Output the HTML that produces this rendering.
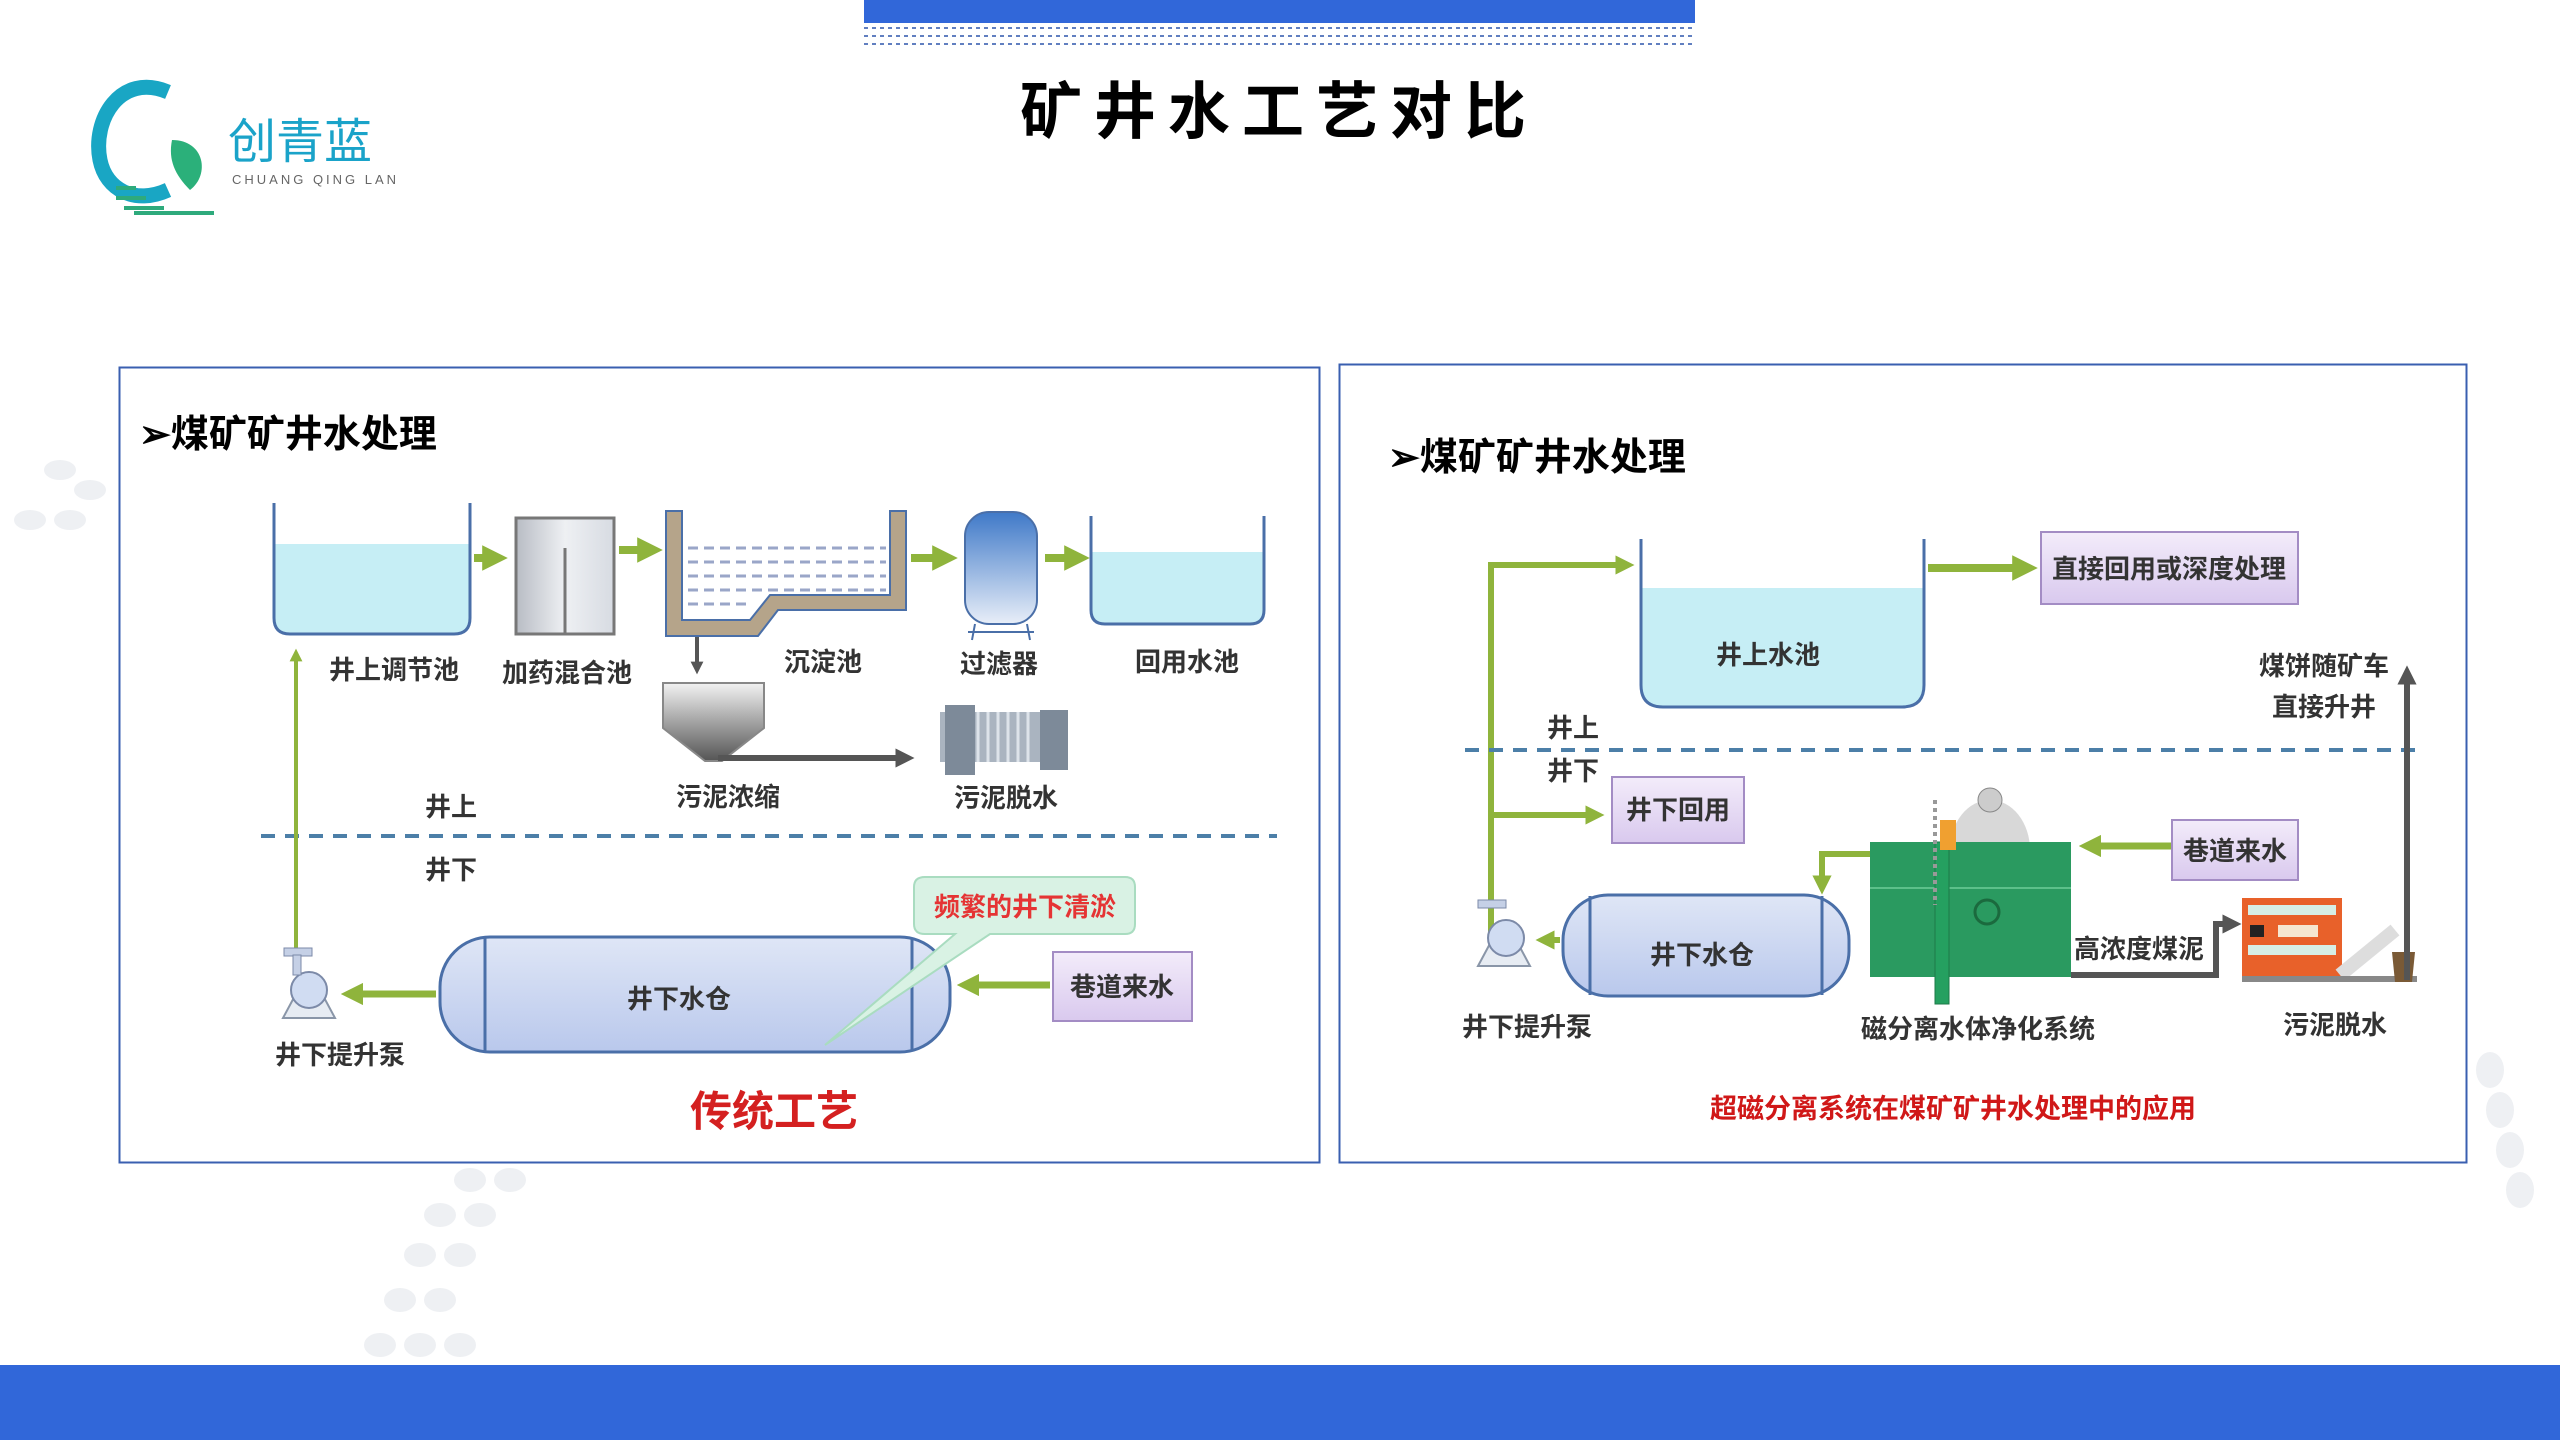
<!DOCTYPE html>
<html><head><meta charset="utf-8"><style>
html,body{margin:0;padding:0;background:#fff;}
body{width:2560px;height:1440px;overflow:hidden;position:relative;}
svg text{font-family:"Liberation Sans","Noto Sans CJK SC",sans-serif;}
</style></head><body>
<svg width="2560" height="1440" viewBox="0 0 2560 1440" xmlns="http://www.w3.org/2000/svg">
<defs>
<pattern id="dots" width="8" height="8" patternUnits="userSpaceOnUse"><rect x="0" y="3" width="4" height="2" fill="#3a5fb0"/></pattern>
<marker id="ga" viewBox="0 0 10 10" refX="5" refY="5" markerWidth="3.2" markerHeight="3.2" orient="auto"><path d="M0,0L10,5L0,10z" fill="#8fb43c"/></marker>
<marker id="da" viewBox="0 0 10 10" refX="5" refY="5" markerWidth="3.2" markerHeight="3.2" orient="auto"><path d="M0,0L10,5L0,10z" fill="#555"/></marker>
<linearGradient id="tankg" x1="0" y1="0" x2="0" y2="1"><stop offset="0" stop-color="#dfe6f6"/><stop offset="1" stop-color="#b9c8ec"/></linearGradient>
<linearGradient id="boxg" x1="0" y1="0" x2="1" y2="0"><stop offset="0" stop-color="#b8bcc4"/><stop offset="0.5" stop-color="#eef0f3"/><stop offset="1" stop-color="#d7dbe2"/></linearGradient>
<linearGradient id="filt" x1="0" y1="0" x2="0" y2="1"><stop offset="0" stop-color="#3f79c8"/><stop offset="1" stop-color="#e8eef8"/></linearGradient>
<linearGradient id="thick" x1="0" y1="0" x2="0" y2="1"><stop offset="0" stop-color="#f2f2f2"/><stop offset="1" stop-color="#555"/></linearGradient>
<linearGradient id="purp" x1="0" y1="0" x2="0" y2="1"><stop offset="0" stop-color="#f3ecfa"/><stop offset="1" stop-color="#d9c9ee"/></linearGradient>
</defs>

<rect x="864" y="0" width="831" height="23" fill="#3167d9"/>
<rect x="864" y="26" width="831" height="22" fill="url(#dots)" opacity="0.8"/>
<text x="1279" y="133" font-size="62" font-weight="bold" text-anchor="middle" letter-spacing="12" fill="#000">矿井水工艺对比</text>

<path d="M168,92 C120,72 92,120 100,160 C106,190 135,205 168,190" fill="none" stroke="#19a6c4" stroke-width="15"/>
<path d="M172,140 C205,140 210,175 190,190 C175,175 168,160 172,140z" fill="#2bb07a"/>
<rect x="116" y="186" width="20" height="4" fill="#2eaa7c"/>
<rect x="116" y="196" width="30" height="4" fill="#2eaa7c"/>
<rect x="124" y="206" width="40" height="4" fill="#2eaa7c"/>
<rect x="134" y="211" width="80" height="4" fill="#2eaa7c"/>
<text x="228" y="158" font-size="48" fill="#1aa3c9">创青蓝</text>
<text x="232" y="184" font-size="13" fill="#666" letter-spacing="3">CHUANG QING LAN</text>

<rect x="0" y="1365" width="2560" height="75" fill="#3167d9"/>

<g fill="#eef0f3">
<ellipse cx="470" cy="1180" rx="16" ry="12"/><ellipse cx="510" cy="1180" rx="16" ry="12"/><ellipse cx="440" cy="1215" rx="16" ry="12"/><ellipse cx="480" cy="1215" rx="16" ry="12"/><ellipse cx="420" cy="1255" rx="16" ry="12"/><ellipse cx="460" cy="1255" rx="16" ry="12"/><ellipse cx="400" cy="1300" rx="16" ry="12"/><ellipse cx="440" cy="1300" rx="16" ry="12"/><ellipse cx="380" cy="1345" rx="16" ry="12"/><ellipse cx="420" cy="1345" rx="16" ry="12"/><ellipse cx="460" cy="1345" rx="16" ry="12"/>
<ellipse cx="60" cy="470" rx="16" ry="10"/><ellipse cx="90" cy="490" rx="16" ry="10"/><ellipse cx="30" cy="520" rx="16" ry="10"/><ellipse cx="70" cy="520" rx="16" ry="10"/>
<ellipse cx="2490" cy="1070" rx="14" ry="18"/><ellipse cx="2500" cy="1110" rx="14" ry="18"/><ellipse cx="2510" cy="1150" rx="14" ry="18"/><ellipse cx="2520" cy="1190" rx="14" ry="18"/>
</g>

<rect x="119.5" y="367.5" width="1200" height="795" fill="#fff" stroke="#3a5fb0" stroke-width="2"/>
<text x="139" y="447" font-size="38" font-weight="bold" fill="#000">➢煤矿矿井水处理</text>

<path d="M274,544 L470,544 L470,618 Q470,634 454,634 L290,634 Q274,634 274,618 Z" fill="#c6eef5"/>
<path d="M274,503 L274,618 Q274,634 290,634 L454,634 Q470,634 470,618 L470,503" fill="none" stroke="#4a6fa8" stroke-width="3"/>
<line x1="474" y1="558" x2="495" y2="558" stroke="#8fb43c" stroke-width="8" marker-end="url(#ga)"/>
<rect x="516" y="518" width="98" height="116" fill="url(#boxg)" stroke="#777" stroke-width="3"/>
<line x1="565" y1="548" x2="565" y2="634" stroke="#777" stroke-width="3"/>
<line x1="619" y1="550" x2="650" y2="550" stroke="#8fb43c" stroke-width="8" marker-end="url(#ga)"/>
<path d="M666,511 L682,511 L682,620 L750,620 L770,595 L890,595 L890,511 L906,511 L906,610 L778,610 L758,636 L666,636 Z" fill="#b5a48a" stroke="#4a6fa8" stroke-width="2"/>
<g stroke="#9aa6c8" stroke-width="3" stroke-dasharray="10,6">
<line x1="688" y1="548" x2="886" y2="548"/><line x1="688" y1="562" x2="886" y2="562"/><line x1="688" y1="576" x2="886" y2="576"/><line x1="688" y1="590" x2="886" y2="590"/><line x1="688" y1="604" x2="750" y2="604"/>
</g>
<line x1="911" y1="558" x2="945" y2="558" stroke="#8fb43c" stroke-width="8" marker-end="url(#ga)"/>
<rect x="965" y="512" width="72" height="112" rx="24" fill="url(#filt)" stroke="#4a6fa8" stroke-width="2"/>
<path d="M975,624 L972,640 M1027,624 L1030,640 M968,632 L1034,632" stroke="#4a6fa8" stroke-width="2"/>
<line x1="1045" y1="558" x2="1077" y2="558" stroke="#8fb43c" stroke-width="8" marker-end="url(#ga)"/>
<path d="M1091,552 L1264,552 L1264,610 Q1264,624 1250,624 L1105,624 Q1091,624 1091,610 Z" fill="#c6eef5"/>
<path d="M1091,516 L1091,610 Q1091,624 1105,624 L1250,624 Q1264,624 1264,610 L1264,516" fill="none" stroke="#4a6fa8" stroke-width="3"/>
<g font-size="26" font-weight="bold" fill="#333" text-anchor="middle">
<text x="394" y="679">井上调节池</text><text x="567" y="682">加药混合池</text><text x="823" y="671">沉淀池</text><text x="999" y="673">过滤器</text><text x="1187" y="671">回用水池</text>
<text x="728" y="806">污泥浓缩</text><text x="1006" y="807">污泥脱水</text>
<text x="451" y="816">井上</text><text x="451" y="879">井下</text>
<text x="340" y="1064">井下提升泵</text>
</g>
<line x1="697" y1="637" x2="697" y2="668" stroke="#555" stroke-width="4" marker-end="url(#da)"/>
<path d="M663,683 L764,683 L764,728 L722,761 L705,761 L663,728 Z" fill="url(#thick)" stroke="#888" stroke-width="2"/>
<line x1="718" y1="758" x2="905" y2="758" stroke="#555" stroke-width="6" marker-end="url(#da)"/>
<rect x="940" y="712" width="125" height="50" fill="#aab4c0"/>
<rect x="945" y="705" width="30" height="70" fill="#7d8a99"/>
<rect x="1040" y="710" width="28" height="60" fill="#7d8a99"/>
<g stroke="#dde3ea" stroke-width="3"><line x1="978" y1="712" x2="978" y2="762"/><line x1="988" y1="712" x2="988" y2="762"/><line x1="998" y1="712" x2="998" y2="762"/><line x1="1008" y1="712" x2="1008" y2="762"/><line x1="1018" y1="712" x2="1018" y2="762"/><line x1="1028" y1="712" x2="1028" y2="762"/></g>
<line x1="261" y1="836" x2="1277" y2="836" stroke="#4c7fa8" stroke-width="4" stroke-dasharray="14,10"/>
<line x1="296" y1="950" x2="296" y2="655" stroke="#8fb43c" stroke-width="4" marker-end="url(#ga)"/>
<path d="M283,1018 L298,990 L320,990 L335,1018 Z" fill="#e7ecf3" stroke="#8a96a8" stroke-width="2"/>
<circle cx="309" cy="990" r="18" fill="#d0dcf2" stroke="#7c8aa8" stroke-width="2"/>
<rect x="284" y="948" width="28" height="8" fill="#c5d0e6" stroke="#7c8aa8"/>
<rect x="293" y="955" width="8" height="20" fill="#c5d0e6" stroke="#7c8aa8"/>
<rect x="440" y="937" width="510" height="115" rx="50" fill="url(#tankg)" stroke="#4a6fa8" stroke-width="3"/>
<line x1="485" y1="938" x2="485" y2="1051" stroke="#4a6fa8" stroke-width="3"/>
<line x1="912" y1="938" x2="912" y2="1051" stroke="#4a6fa8" stroke-width="3"/>
<text x="679" y="1008" font-size="26" font-weight="bold" fill="#333" text-anchor="middle">井下水仓</text>
<line x1="436" y1="994" x2="352" y2="994" stroke="#8fb43c" stroke-width="7" marker-end="url(#ga)"/>
<rect x="1053" y="952" width="139" height="69" fill="url(#purp)" stroke="#a38cc4" stroke-width="2"/>
<text x="1122" y="996" font-size="26" font-weight="bold" fill="#333" text-anchor="middle">巷道来水</text>
<line x1="1050" y1="985" x2="968" y2="985" stroke="#8fb43c" stroke-width="7" marker-end="url(#ga)"/>
<path d="M925,877 L1125,877 Q1135,877 1135,887 L1135,924 Q1135,934 1125,934 L990,934 L825,1045 L955,934 L925,934 Q914,934 914,924 L914,887 Q914,877 925,877 Z" fill="#d9f2e4" stroke="#a9dcc0" stroke-width="2"/>
<text x="1025" y="916" font-size="26" font-weight="bold" fill="#e53434" text-anchor="middle">频繁的井下清淤</text>
<text x="774" y="1126" font-size="42" font-weight="bold" fill="#d42020" text-anchor="middle">传统工艺</text>

<rect x="1339.5" y="364.5" width="1127" height="798" fill="#fff" stroke="#3a5fb0" stroke-width="2"/>
<text x="1388" y="470" font-size="38" font-weight="bold" fill="#000">➢煤矿矿井水处理</text>
<path d="M1641,588 L1924,588 L1924,685 Q1924,707 1902,707 L1663,707 Q1641,707 1641,685 Z" fill="#c6eef5"/>
<path d="M1641,539 L1641,685 Q1641,707 1663,707 L1902,707 Q1924,707 1924,685 L1924,539" fill="none" stroke="#4a6fa8" stroke-width="3"/>
<text x="1768" y="664" font-size="26" font-weight="bold" fill="#333" text-anchor="middle">井上水池</text>
<line x1="1928" y1="568" x2="2025" y2="568" stroke="#8fb43c" stroke-width="8" marker-end="url(#ga)"/>
<rect x="2041" y="532" width="257" height="72" fill="url(#purp)" stroke="#a38cc4" stroke-width="2"/>
<text x="2169" y="578" font-size="26" font-weight="bold" fill="#333" text-anchor="middle">直接回用或深度处理</text>
<polyline points="1491,940 1491,565 1625,565" fill="none" stroke="#8fb43c" stroke-width="6"/>
<line x1="1600" y1="565" x2="1625" y2="565" stroke="#8fb43c" stroke-width="6" marker-end="url(#ga)"/>
<line x1="1491" y1="815" x2="1595" y2="815" stroke="#8fb43c" stroke-width="6" marker-end="url(#ga)"/>
<line x1="1465" y1="750" x2="2423" y2="750" stroke="#4c7fa8" stroke-width="4" stroke-dasharray="14,10"/>
<g font-size="26" font-weight="bold" fill="#333" text-anchor="middle">
<text x="1573" y="737">井上</text><text x="1573" y="780">井下</text>
<text x="1527" y="1036">井下提升泵</text><text x="1978" y="1038">磁分离水体净化系统</text><text x="2335" y="1034">污泥脱水</text>
<text x="2324" y="675">煤饼随矿车</text><text x="2324" y="716">直接升井</text>
<text x="2139" y="958">高浓度煤泥</text>
</g>
<rect x="1612" y="777" width="132" height="66" fill="url(#purp)" stroke="#a38cc4" stroke-width="2"/>
<text x="1678" y="819" font-size="26" font-weight="bold" fill="#333" text-anchor="middle">井下回用</text>
<path d="M1478,966 L1493,938 L1515,938 L1530,966 Z" fill="#e7ecf3" stroke="#8a96a8" stroke-width="2"/>
<circle cx="1506" cy="938" r="18" fill="#d0dcf2" stroke="#7c8aa8" stroke-width="2"/>
<rect x="1478" y="900" width="28" height="8" fill="#c5d0e6" stroke="#7c8aa8"/>
<rect x="1563" y="895" width="286" height="101" rx="45" fill="url(#tankg)" stroke="#4a6fa8" stroke-width="3"/>
<line x1="1590" y1="896" x2="1590" y2="995" stroke="#4a6fa8" stroke-width="3"/>
<line x1="1822" y1="896" x2="1822" y2="995" stroke="#4a6fa8" stroke-width="3"/>
<text x="1702" y="964" font-size="26" font-weight="bold" fill="#333" text-anchor="middle">井下水仓</text>
<line x1="1560" y1="940" x2="1545" y2="940" stroke="#8fb43c" stroke-width="6" marker-end="url(#ga)"/>
<polyline points="1870,854 1822,854 1822,880" fill="none" stroke="#8fb43c" stroke-width="6"/>
<line x1="1822" y1="870" x2="1822" y2="885" stroke="#8fb43c" stroke-width="6" marker-end="url(#ga)"/>
<ellipse cx="1990" cy="850" rx="40" ry="50" fill="#d8d8d8"/>
<circle cx="1990" cy="800" r="12" fill="#ccc" stroke="#888"/>
<rect x="1870" y="842" width="201" height="135" fill="#2a9a60"/>
<line x1="1870" y1="888" x2="2071" y2="888" stroke="#5cc08a" stroke-width="2"/>
<rect x="1935" y="842" width="14" height="162" fill="#25a060" stroke="#1d7a48"/>
<rect x="1940" y="820" width="16" height="30" fill="#f0a030"/>
<line x1="1935" y1="800" x2="1935" y2="905" stroke="#999" stroke-width="4" stroke-dasharray="4,4"/>
<circle cx="1987" cy="912" r="12" fill="#2a9a60" stroke="#1b6a3e" stroke-width="3"/>
<line x1="2172" y1="846" x2="2090" y2="846" stroke="#8fb43c" stroke-width="7" marker-end="url(#ga)"/>
<rect x="2172" y="820" width="126" height="60" fill="url(#purp)" stroke="#a38cc4" stroke-width="2"/>
<text x="2235" y="860" font-size="26" font-weight="bold" fill="#333" text-anchor="middle">巷道来水</text>
<polyline points="2071,975 2216,975 2216,924 2228,924" fill="none" stroke="#555" stroke-width="6"/>
<line x1="2222" y1="924" x2="2232" y2="924" stroke="#555" stroke-width="6" marker-end="url(#da)"/>
<rect x="2242" y="898" width="100" height="80" fill="#e8612a"/>
<rect x="2248" y="905" width="88" height="10" fill="#d6efe6"/>
<rect x="2248" y="945" width="88" height="10" fill="#d6efe6"/>
<rect x="2250" y="925" width="14" height="12" fill="#222"/>
<rect x="2278" y="925" width="40" height="12" fill="#f5e6d0"/>
<path d="M2340,975 L2395,930" stroke="#ddd" stroke-width="14"/>
<rect x="2242" y="976" width="175" height="6" fill="#888"/>
<path d="M2392,952 L2415,952 L2412,982 L2395,982 Z" fill="#7a5a36"/>
<line x1="2407" y1="980" x2="2407" y2="675" stroke="#555" stroke-width="6" marker-end="url(#da)"/>
<text x="1953" y="1118" font-size="27" font-weight="bold" fill="#d01818" text-anchor="middle">超磁分离系统在煤矿矿井水处理中的应用</text>
</svg>
</body></html>
